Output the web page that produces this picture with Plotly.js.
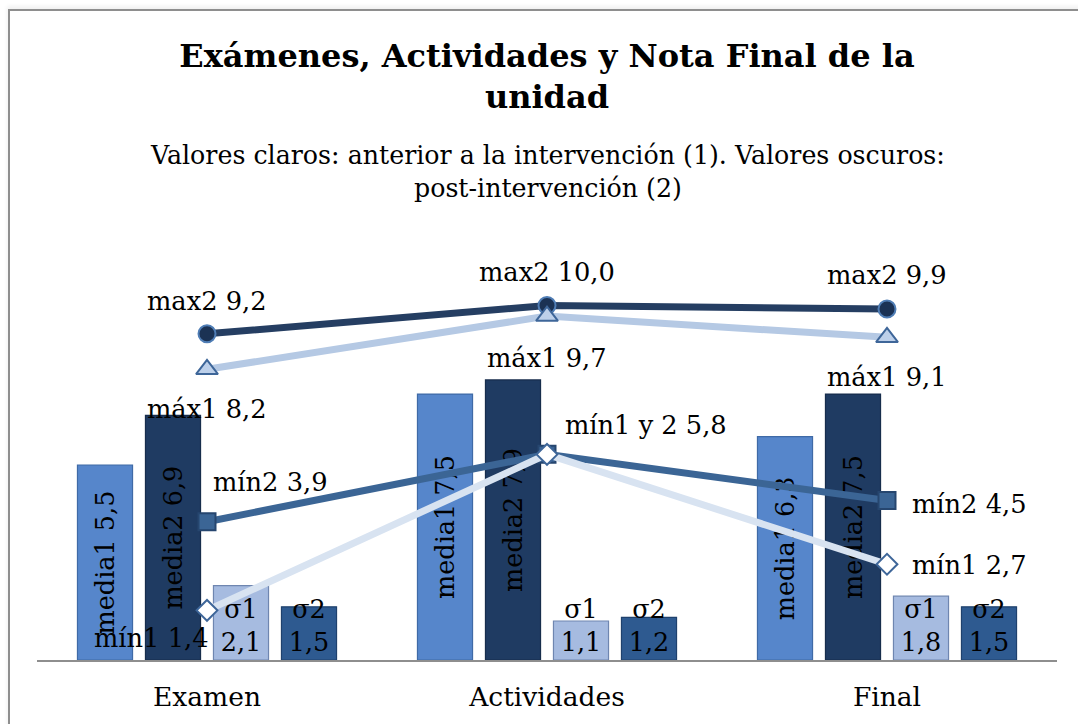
<!DOCTYPE html>
<html>
<head>
<meta charset="utf-8">
<script src="https://cdn.plot.ly/plotly-3.0.1.min.js"></script>
<style>
  html, body { margin: 0; padding: 0; background: #ffffff; }
  #wrap { position: relative; width: 1078px; height: 724px; overflow: hidden; }
  #chart { position: absolute; left: 0; top: 0; width: 1078px; height: 724px; }
  #frame { position: absolute; left: 8px; top: 9px; width: 1200px; height: 800px;
           border-left: 2px solid #8e8e8e; border-top: 2px solid #8e8e8e;
           box-shadow: -1px -3px 4px rgba(0,0,0,0.06); pointer-events: none; }
</style>
</head>
<body>
<div id="wrap">
  <div id="chart"></div>
  <div id="frame"></div>
</div>
<script>
// ---- data ----
const categories = ['Examen', 'Actividades', 'Final'];
const media1 = [5.5, 7.5, 6.3];
const media2 = [6.9, 7.9, 7.5];
const sigma1 = [2.1, 1.1, 1.8];
const sigma2 = [1.5, 1.2, 1.5];
const max2 = [9.2, 10.0, 9.9];
const max1 = [8.2, 9.7, 9.1];
const min2 = [3.9, 5.8, 4.5];
const min1 = [1.4, 5.8, 2.7];
const max2Names = ['max2', 'max2', 'max2'];
const max1Names = ['máx1', 'máx1', 'máx1'];
const min2Names = ['mín2', 'mín1 y 2', 'mín2'];
const min1Names = ['mín1', '', 'mín1'];

const fmt = v => v.toFixed(1).replace('.', ',');
const FONT = 'DejaVu Serif, Georgia, serif';

function barTrace(name, values, color, lineColor, textFn, angle, anchor) {
  return {
    type: 'bar', name: name, x: categories, y: values,
    marker: { color: color, line: { color: lineColor, width: 1.2 } },
    text: values.map(textFn),
    textposition: 'inside', insidetextanchor: anchor, textangle: angle,
    constraintext: 'none', cliponaxis: false,
    textfont: { family: FONT, size: 25.5, color: '#000000' },
    hoverinfo: 'none'
  };
}

function lineTrace(name, values, color, sym, size, mColor, mLine) {
  return {
    type: 'scatter', mode: 'lines+markers', name: name, x: categories, y: values,
    line: { color: color, width: 7 },
    marker: { symbol: sym, size: size, color: mColor, line: { color: mLine, width: 2 } },
    cliponaxis: false, hoverinfo: 'none'
  };
}

const traces = [
  barTrace('media1', media1, '#5686cb', '#3f6aa6', v => 'media1 ' + fmt(v), -90, 'middle'),
  barTrace('media2', media2, '#1f3b62', '#172d4c', v => 'media2 ' + fmt(v), -90, 'middle'),
  barTrace('σ1', sigma1, '#a6bbe0', '#6f86b0', v => 'σ1<br>' + fmt(v), 0, 'start'),
  barTrace('σ2', sigma2, '#2e5a90', '#1f416d', v => 'σ2<br>' + fmt(v), 0, 'start'),
  lineTrace('max2', max2, '#253e62', 'circle', 17, '#1b3254', '#4f7db5'),
  lineTrace('máx1', max1, '#b5c9e4', 'triangle-up', 19, '#bdd0ea', '#3e6699'),
  lineTrace('mín2', min2, '#3b6595', 'square', 17, '#3b6595', '#26466f'),
  lineTrace('mín1', min1, '#d8e3f1', 'diamond', 16, '#ffffff', '#3e6699')
];

// ---- label placement (style only) ----
const labelStyle = {
  max2: [{xa:'center', xs:0, ys:33}, {xa:'center', xs:0, ys:33}, {xa:'center', xs:0, ys:34}],
  max1: [{xa:'center', xs:0, ys:-40}, {xa:'center', xs:0, ys:-42}, {xa:'center', xs:0, ys:-40}],
  min2: [{xa:'left', xs:4, ys:40}, {xa:'left', xs:16, ys:29}, {xa:'left', xs:23, ys:-4}],
  min1: [{xa:'right', xs:3, ys:-28}, {xa:'left', xs:0, ys:0}, {xa:'left', xs:23, ys:-1}]
};

const annotations = [];
function addLabels(names, values, styles) {
  values.forEach((v, i) => {
    if (!names[i]) return;
    const s = styles[i];
    annotations.push({
      x: categories[i], y: v, xref: 'x', yref: 'y',
      text: names[i] + ' ' + fmt(v), showarrow: false,
      xanchor: s.xa, yanchor: 'middle', xshift: s.xs, yshift: s.ys,
      font: { family: FONT, size: 25.7, color: '#000000' }
    });
  });
}
addLabels(max2Names, max2, labelStyle.max2);
addLabels(max1Names, max1, labelStyle.max1);
addLabels(min2Names, min2, labelStyle.min2);
addLabels(min1Names, min1, labelStyle.min1);

annotations.push({
  xref: 'paper', yref: 'paper', x: 0.5, y: 1.252, xanchor: 'center', yanchor: 'middle',
  text: 'Valores claros: anterior a la intervención (1). Valores oscuros:<br>post-intervención (2)',
  showarrow: false, font: { family: FONT, size: 25.3, color: '#000000' }
});

const layout = {
  width: 1078, height: 724,
  paper_bgcolor: '#ffffff', plot_bgcolor: 'rgba(0,0,0,0)',
  margin: { l: 37, r: 21, t: 270, b: 64 },
  showlegend: false,
  barmode: 'group', bargap: 0.2, bargroupgap: 0.19,
  title: {
    text: '<b>Exámenes, Actividades y Nota Final de la<br>unidad</b>',
    font: { family: FONT, size: 32, color: '#000000' },
    x: 0.5, xref: 'paper', xanchor: 'center',
    y: 0.908, yref: 'container', yanchor: 'top'
  },
  xaxis: {
    type: 'category', showgrid: false, zeroline: false,
    showline: true, linecolor: '#8e8e8e', linewidth: 2,
    ticks: '', ticklabelstandoff: 12,
    tickfont: { family: FONT, size: 26.5, color: '#000000' }
  },
  yaxis: { visible: false, range: [0, 11], showgrid: false, zeroline: false },
  annotations: annotations
};

Plotly.newPlot('chart', traces, layout, { staticPlot: true, displayModeBar: false });
</script>
</body>
</html>
